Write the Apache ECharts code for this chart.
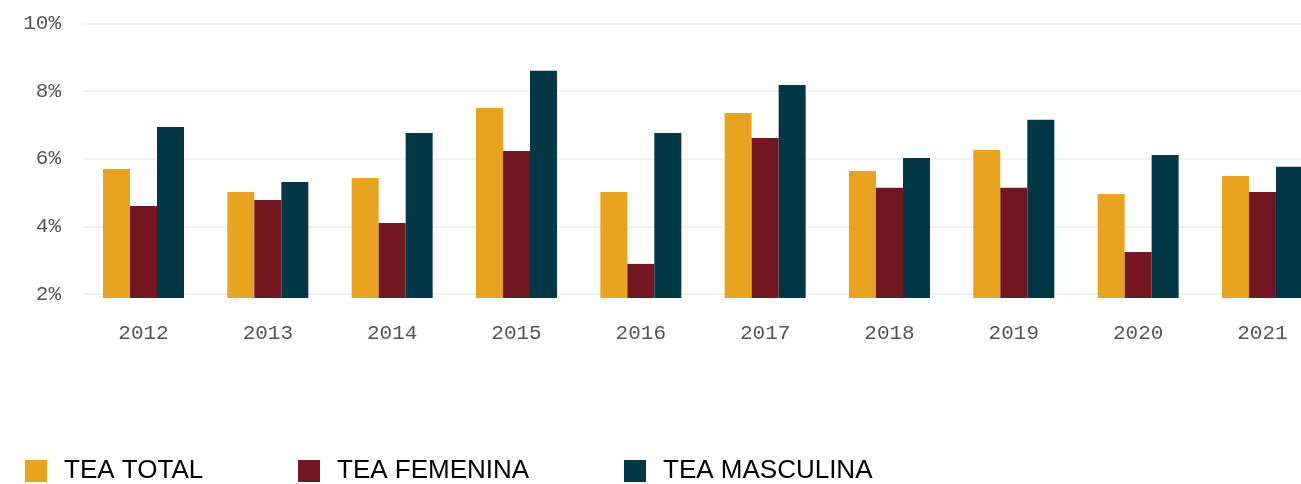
<!DOCTYPE html>
<html>
<head>
<meta charset="utf-8">
<script src="https://cdn.jsdelivr.net/npm/echarts@6/dist/echarts.min.js"></script>
<style>
html,body{margin:0;padding:0;background:#fff;}
#c{width:1301px;height:484px;}
</style>
</head>
<body>
<div id="c"></div>
<script>
const categories = ['2012','2013','2014','2015','2016','2017','2018','2019','2020','2021'];
const teaTotal     = [5.70, 5.02, 5.43, 7.50, 5.02, 7.35, 5.64, 6.26, 4.96, 5.49];
const teaFemenina  = [4.60, 4.78, 4.10, 6.23, 2.89, 6.61, 5.14, 5.14, 3.24, 5.02];
const teaMasculina = [6.94, 5.31, 6.76, 8.60, 6.76, 8.18, 6.02, 7.15, 6.11, 5.76];
const seriesNames = ['TEA TOTAL','TEA FEMENINA','TEA MASCULINA'];
const colors = ['#E8A31F','#721620','#023845'];
const yTicks = [2, 4, 6, 8, 10];

const chart = echarts.init(document.getElementById('c'), null, {renderer:'canvas'});
const monoFont = '"Liberation Mono", "DejaVu Sans Mono", monospace';
const gridTop = 23.5;
const axisH = 270.5;
const pxPerUnit = axisH / (yTicks[yTicks.length-1] - yTicks[0]);
const barH = 274.5;
const barMin = yTicks[yTicks.length-1] - barH / pxPerUnit;
const band = 124.33;
const firstCenter = 143.5;

const legendLefts = [25, 298, 624];

chart.setOption({
  animation:false,
  color: colors,
  grid:[
    {left:84, right:0, top:gridTop, height:axisH, containLabel:false, outerBoundsMode:'none'},
    {left:firstCenter - band/2, width:band*categories.length, top:gridTop, height:barH, containLabel:false, outerBoundsMode:'none'}
  ],
  legend: seriesNames.map((n,i)=>({
    data:[n], left:legendLefts[i], top:458, padding:0, itemWidth:22, itemHeight:22, icon:'rect',
    textStyle:{fontFamily:'"Liberation Sans", Arial, sans-serif', fontSize:26, color:'#000', padding:[3,0,0,12]}
  })),
  xAxis:[
    {type:'category', gridIndex:0, data:categories, show:false},
    {type:'category', gridIndex:1, data:categories,
      axisLine:{show:false, onZero:false}, axisTick:{show:false}, splitLine:{show:false},
      axisLabel:{fontFamily:monoFont, fontSize:21, color:'#555', margin:25, interval:0}}
  ],
  yAxis:[
    {type:'value', gridIndex:0, min:yTicks[0], max:yTicks[yTicks.length-1], interval:2,
      axisLine:{show:false}, axisTick:{show:false},
      axisLabel:{fontFamily:monoFont, fontSize:21, color:'#555', margin:23, formatter:v=>v+'%'},
      splitLine:{lineStyle:{color:'#eeeeee', width:1.5}}},
    {type:'value', gridIndex:1, min:barMin, max:yTicks[yTicks.length-1], show:false, splitLine:{show:false}}
  ],
  series:[teaTotal, teaFemenina, teaMasculina].map((d,i)=>({
    name:seriesNames[i], type:'bar', xAxisIndex:1, yAxisIndex:1, data:d,
    barWidth:27, barGap:'0%', itemStyle:{color:colors[i]}
  }))
});
</script>
</body>
</html>
